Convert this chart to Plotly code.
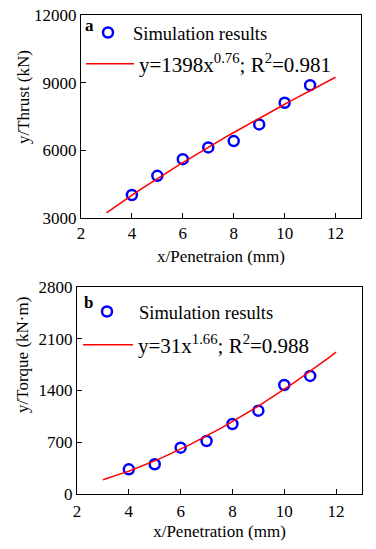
import plotly.graph_objects as go
import numpy as np

# ---- data ----
penetration = [4, 5, 6, 7, 8, 9, 10, 11]
thrust = [4020, 4870, 5610, 6130, 6410, 7150, 8110, 8890]
torque = [334, 402, 627, 717, 947, 1127, 1475, 1597]

# fitted power laws shown in the legends: y = a * x^b
thrust_fit = (1398, 0.76)
torque_fit = (31, 1.66)
fit_x = list(np.linspace(3, 12, 60))

thrust_ticks = [3000, 6000, 9000, 12000]
torque_ticks = [0, 700, 1400, 2100, 2800]
x_ticks = [2, 4, 6, 8, 10, 12]

FONT = "Liberation Serif"
PAGE_W, PAGE_H = 376, 549
BODY = 8  # default page margin around the figure
W, H = PAGE_W - 2 * BODY, PAGE_H - 2 * BODY


def fit(a, b):
    return [a * x ** b for x in fit_x]


def px_x(p):  # page pixel -> paper fraction
    return (p - BODY) / W


def px_y(p):
    return 1 - (p - BODY) / H


fig = go.Figure()

marker = dict(symbol="circle-open", size=10, color="#0000FF", line=dict(width=2.5, color="#0000FF"))
fit_line = dict(color="#FF0000", width=1.5)

fig.add_trace(go.Scatter(x=penetration, y=thrust, mode="markers", marker=marker,
                         name="Simulation results", xaxis="x", yaxis="y", legend="legend"))
fig.add_trace(go.Scatter(x=fit_x, y=fit(*thrust_fit), mode="lines", line=fit_line,
                         name="y=1398x<sup>0.76</sup>; R<sup>2</sup>=0.981",
                         xaxis="x", yaxis="y", legend="legend2"))
fig.add_trace(go.Scatter(x=penetration, y=torque, mode="markers", marker=marker,
                         name="Simulation results", xaxis="x2", yaxis="y2", legend="legend3"))
fig.add_trace(go.Scatter(x=fit_x, y=fit(*torque_fit), mode="lines", line=fit_line,
                         name="y=31x<sup>1.66</sup>; R<sup>2</sup>=0.988",
                         xaxis="x2", yaxis="y2", legend="legend4"))

axis_common = dict(showline=True, linecolor="black", linewidth=1, mirror=True,
                   ticks="inside", ticklen=5, tickcolor="black", showgrid=False, zeroline=False,
                   tickformat="d", automargin=False, ticklabeloverflow="allow",
                   tickfont=dict(family=FONT, size=17, color="black"))


def legend_box(x, y, size, width):
    return dict(x=px_x(x), y=px_y(y), xanchor="left", yanchor="middle", visible=True,
                bgcolor="rgba(0,0,0,0)", font=dict(family=FONT, size=size, color="black"),
                itemwidth=width)


fig.update_layout(
    width=W, height=H,
    showlegend=True,
    margin=dict(l=0, r=0, t=0, b=0, autoexpand=False),
    paper_bgcolor="white", plot_bgcolor="white",
    font=dict(family=FONT, color="black"),
    xaxis=dict(domain=[px_x(81), px_x(361)], range=[2, 13], tickvals=x_ticks, anchor="y",
               title=dict(text="x/Penetraion (mm)", font=dict(family=FONT, size=17), standoff=7),
               **axis_common),
    yaxis=dict(domain=[px_y(218), px_y(15)], range=[3000, 12000], tickvals=thrust_ticks, anchor="x",
               **axis_common),
    xaxis2=dict(domain=[px_x(77), px_x(362)], range=[2, 13], tickvals=x_ticks, anchor="y2",
                title=dict(text="x/Penetration (mm)", font=dict(family=FONT, size=17), standoff=11),
                ticklabelstandoff=2, **axis_common),
    yaxis2=dict(domain=[px_y(494), px_y(287)], range=[0, 2800], tickvals=torque_ticks, anchor="x2",
                **axis_common),
    legend=legend_box(83, 33, 18.5, 40),
    legend2=legend_box(81, 64, 21, 48),
    legend3=legend_box(75, 312, 18.5, 54),
    legend4=legend_box(78, 345, 21, 50),
    annotations=[
        dict(text="<b>a</b>", x=px_x(89), y=px_y(25), xref="paper", yref="paper",
             xanchor="center", yanchor="middle",
             showarrow=False, font=dict(family=FONT, size=17)),
        dict(text="<b>b</b>", x=px_x(88), y=px_y(302), xref="paper", yref="paper",
             xanchor="center", yanchor="middle",
             showarrow=False, font=dict(family=FONT, size=17)),
        dict(text="y/Thrust (kN)", x=px_x(23), y=px_y(97), xref="paper", yref="paper",
             xanchor="center", yanchor="middle",
             showarrow=False, textangle=-90, font=dict(family=FONT, size=17)),
        dict(text="y/Torque (kN·m)", x=px_x(22), y=px_y(355), xref="paper", yref="paper",
             xanchor="center", yanchor="middle",
             showarrow=False, textangle=-90, font=dict(family=FONT, size=17)),
    ],
)

fig.write_html("out.html")
